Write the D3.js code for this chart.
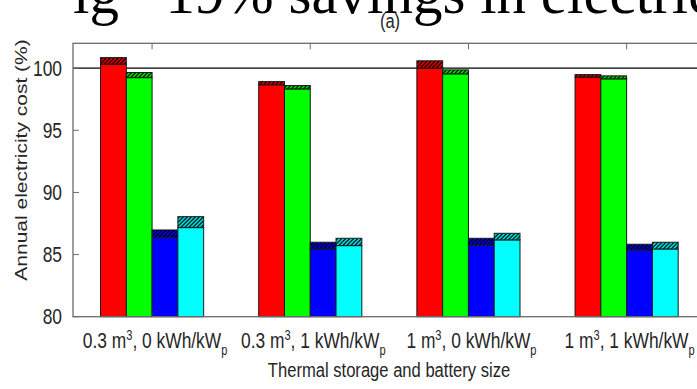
<!DOCTYPE html>
<html>
<head>
<meta charset="utf-8">
<script src="https://cdn.jsdelivr.net/npm/d3@7"></script>
<style>
  body { margin: 0; background: #fff; }
  svg { display: block; }
  text { font-family: "Liberation Sans", Arial, sans-serif; fill: #262626; }
</style>
</head>
<body>
<div id="chart"></div>
<script>
// data
const storage = ["0.3", "0.3", "1", "1"];
const battery = ["0", "1", "0", "1"];
const seriesColors = ["#ff0000", "#00ff00", "#0000ff", "#00ffff"];
// solid part of each bar
const redBase = [100.32, 98.66, 100.0, 99.27];
const greenBase = [99.24, 98.33, 99.54, 99.14];
const blueBase = [86.36, 85.45, 85.77, 85.37];
const cyanBase = [87.17, 85.72, 86.18, 85.45];
// top of the hatched part
const redTop = [100.85, 98.92, 100.59, 99.48];
const greenTop = [99.65, 98.6, 99.86, 99.38];
const blueTop = [86.98, 85.99, 86.31, 85.83];
const cyanTop = [88.05, 86.31, 86.71, 85.99];
const yTicks = [80, 85, 90, 95, 100];
const refLine = 100;

const W = 697, H = 389;
const margin = {top: 43.3, left: 73, right: -8.7, bottom: 72.3};
const width = W - margin.left - margin.right,
      height = H - margin.top - margin.bottom;

const svg = d3.select("#chart").append("svg")
    .attr("width", W).attr("height", H);

// the image is squashed sideways, so text is too
const sx = 0.79, fs = 21, tfs = 22;
function place(sel, x, y, rot) {
    return sel.attr("transform", "translate(" + x + "," + y + ") scale(" + sx + ",1)" + (rot ? " rotate(" + rot + ")" : ""));
}

const x = d3.scaleLinear().domain([0.5, 4.5]).range([0, width]);
const y = d3.scaleLinear().domain([80, 102]).range([height, 0]);

const bw = 0.163; // bar width in group units

const series = [
    {base: redBase, top: redTop},
    {base: greenBase, top: greenTop},
    {base: blueBase, top: blueTop},
    {base: cyanBase, top: cyanTop}
];

// hatch patterns, one per colour
const defs = svg.append("defs");
seriesColors.forEach((c, i) => {
    const p = defs.append("pattern")
        .attr("id", "hatch" + i)
        .attr("patternUnits", "userSpaceOnUse")
        .attr("width", 4).attr("height", 4);
    p.append("rect").attr("width", 4).attr("height", 4).attr("fill", c);
    p.append("path").attr("d", "M-1,1 l2,-2 M0,4 l4,-4 M3,5 l2,-2")
        .attr("stroke", "#000").attr("stroke-width", 1.3);
});

// big clipped text from the page above the figure
svg.append("text")
    .attr("x", 73).attr("y", 13)
    .style("font-family", "'Liberation Serif', 'Times New Roman', serif")
    .style("font-size", "59px")
    .style("fill", "#000")
    .text("ig ~19% savings in electricity");

const g = svg.append("g")
    .attr("transform", "translate(" + margin.left + "," + margin.top + ")");

// reference line
g.append("line")
    .attr("x1", 0).attr("x2", width)
    .attr("y1", y(refLine)).attr("y2", y(refLine))
    .attr("stroke", "#000").attr("stroke-width", 1.2);

// bars
series.forEach((s, i) => {
    const off = (i - 1.5) * bw;
    const grp = g.append("g");
    grp.selectAll("rect.base")
        .data(s.base)
        .join("rect")
        .attr("class", "base")
        .attr("x", (d, j) => x(j + 1 + off - bw / 2))
        .attr("width", x(bw) - x(0))
        .attr("y", d => y(d))
        .attr("height", d => y(80) - y(d))
        .attr("fill", seriesColors[i])
        .attr("stroke", "#1a1a1a").attr("stroke-width", 1);
    grp.selectAll("rect.cap")
        .data(s.top)
        .join("rect")
        .attr("class", "cap")
        .attr("x", (d, j) => x(j + 1 + off - bw / 2))
        .attr("width", x(bw) - x(0))
        .attr("y", d => y(d))
        .attr("height", (d, j) => y(s.base[j]) - y(d))
        .attr("fill", "url(#hatch" + i + ")")
        .attr("stroke", "#1a1a1a").attr("stroke-width", 1);
});

// axes box
const axisColor = "#6b6b6b";
g.append("rect")
    .attr("width", width).attr("height", height)
    .attr("fill", "none").attr("stroke", axisColor).attr("stroke-width", 1.3);

// ticks, inward
yTicks.forEach(t => {
    g.append("line").attr("x1", 0).attr("x2", 6).attr("y1", y(t)).attr("y2", y(t))
        .attr("stroke", axisColor);
    g.append("line").attr("x1", width).attr("x2", width - 7).attr("y1", y(t)).attr("y2", y(t))
        .attr("stroke", axisColor);
    place(g.append("text"), -11, y(t) + 7.5)
        .attr("text-anchor", "end")
        .style("font-size", tfs + "px")
        .text(t);
});
storage.forEach((d, j) => {
    g.append("line").attr("x1", x(j + 1)).attr("x2", x(j + 1)).attr("y1", 0).attr("y2", 6)
        .attr("stroke", axisColor);
    const t = place(g.append("text"), x(j + 1) + 3, height + 31)
        .attr("text-anchor", "middle")
        .style("font-size", tfs + "px");
    t.append("tspan").text(d + " m");
    t.append("tspan").attr("dy", -8).style("font-size", "14px").text("3");
    t.append("tspan").attr("dy", 8).text(", " + battery[j] + " kWh/kW");
    t.append("tspan").attr("dy", 7).style("font-size", "14px").text("p");
});

// titles
place(svg.append("text"), 389, 377)
    .attr("text-anchor", "middle")
    .style("font-size", fs + "px")
    .text("Thermal storage and battery size");
place(svg.append("text"), 27, 160, -90)
    .attr("text-anchor", "middle")
    .style("font-size", fs + "px")
    .text("Annual electricity cost (%)");
place(svg.append("text"), 390, 28)
    .attr("text-anchor", "middle")
    .style("font-size", fs + "px")
    .text("(a)");
</script>
</body>
</html>
